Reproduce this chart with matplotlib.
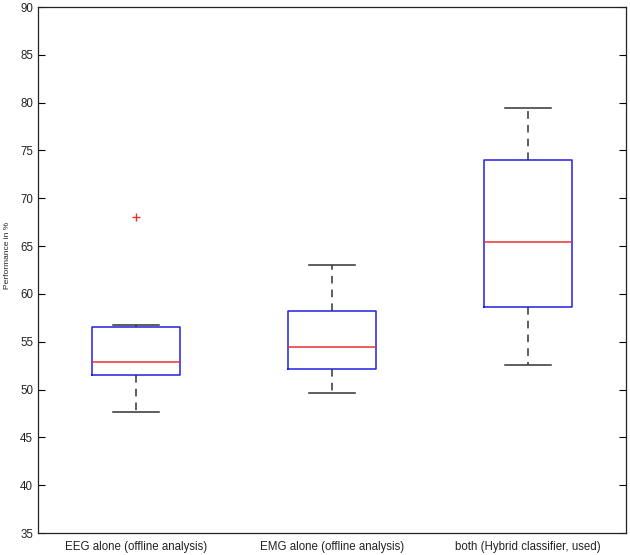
import matplotlib
matplotlib.use('Agg')
import matplotlib.pyplot as plt

plt.rcParams['font.family'] = ['Liberation Sans', 'DejaVu Sans']

# box statistics
labels = ['EEG alone (offline analysis)', 'EMG alone (offline analysis)',
          'both (Hybrid classifier, used)']
whislo = [47.7, 49.6, 52.6]
q1 = [51.5, 52.1, 58.6]
med = [52.85, 54.4, 65.4]
q3 = [56.5, 58.2, 74.0]
whishi = [56.8, 63.0, 79.4]
fliers = [[68.0], [], []]

stats = []
for i in range(len(labels)):
    stats.append({'label': labels[i], 'whislo': whislo[i], 'q1': q1[i], 'med': med[i],
                  'q3': q3[i], 'whishi': whishi[i], 'fliers': fliers[i]})

fig = plt.figure(figsize=(6.3, 5.55), dpi=100)
ax = fig.add_axes([38 / 630, 22 / 555, 588 / 630, 526 / 555])

ax.bxp(stats, positions=[1, 2, 3], widths=0.45, showfliers=True,
       boxprops=dict(color='#2020e0', linewidth=1.1),
       medianprops=dict(color='#e83030', linewidth=1.1),
       whiskerprops=dict(color='#333333', linewidth=1.1, linestyle=(0, (5, 4))),
       capprops=dict(color='#333333', linewidth=1.1),
       capwidths=0.23,
       flierprops=dict(marker='+', markeredgecolor='#e83030', markersize=6, linestyle='none'))

ax.set_xlim(0.5, 3.5)
ax.set_ylim(35, 90)
ax.set_yticks(range(35, 91, 5))
ax.set_ylabel('Performance in %', fontsize=6.0, color='#222222')
ax.yaxis.set_label_coords(-0.046, 0.527)
ax.tick_params(axis='y', direction='in', right=True, labelsize=8.3, length=5, width=0.8,
               labelcolor='#222222')
ax.tick_params(axis='x', length=0, labelsize=8.3, pad=6, labelcolor='#222222')
for s in ax.spines.values():
    s.set_linewidth(0.9)
    s.set_color('#222222')

fig.savefig('out.png', dpi=100)
